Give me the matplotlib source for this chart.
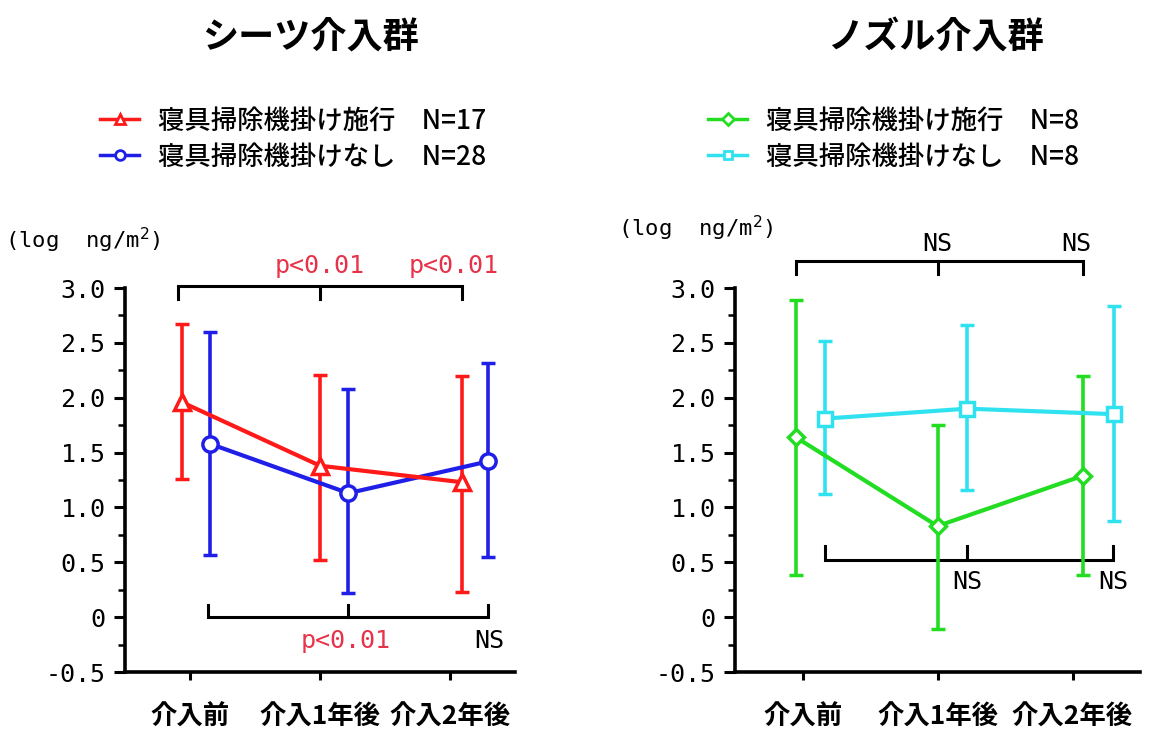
import matplotlib
matplotlib.use("Agg")
import matplotlib.pyplot as plt
from matplotlib.ticker import FixedLocator, FixedFormatter, MultipleLocator
from matplotlib.lines import Line2D

plt.rcParams['font.family'] = ['Noto Sans CJK JP', 'DejaVu Sans']

# ---- data ----
periods = ["介入前", "介入1年後", "介入2年後"]
yticks = [-0.5, 0.0, 0.5, 1.0, 1.5, 2.0, 2.5, 3.0]
ytick_labels = ["-0.5", "0", "0.5", "1.0", "1.5", "2.0", "2.5", "3.0"]

# sheets group
sheet_on_mean = [1.96, 1.38, 1.23]
sheet_on_hi = [2.67, 2.21, 2.20]
sheet_on_lo = [1.26, 0.52, 0.23]
sheet_off_mean = [1.58, 1.13, 1.42]
sheet_off_hi = [2.60, 2.08, 2.32]
sheet_off_lo = [0.57, 0.22, 0.55]

# nozzle group
nozzle_on_mean = [1.64, 0.83, 1.29]
nozzle_on_hi = [2.89, 1.75, 2.20]
nozzle_on_lo = [0.38, -0.11, 0.38]
nozzle_off_mean = [1.81, 1.90, 1.85]
nozzle_off_hi = [2.52, 2.66, 2.84]
nozzle_off_lo = [1.12, 1.16, 0.88]

label_on = "寝具掃除機掛け施行"
label_off = "寝具掃除機掛けなし"

RED = "#ff1a1a"
BLUE = "#1f1fe8"
GREEN = "#22dd22"
CYAN = "#30e2f0"
PINK = "#e8324a"
NUMFONT = ['DejaVu Sans Mono']


def series(ax, offs, mean, lo, hi, color, marker, ms):
    xs = [i + o for i, o in enumerate(offs)]
    yerr = [[m - l for m, l in zip(mean, lo)], [h - m for m, h in zip(mean, hi)]]
    ax.errorbar(xs, mean, yerr=yerr, color=color, lw=3, elinewidth=2.6,
                capsize=5, capthick=2.6, marker=marker, ms=ms, mfc="white",
                mec=color, mew=2.5, zorder=3, clip_on=False)


def style_axes(ax):
    ax.set_xlim(-0.5, 2.5)
    ax.set_ylim(-0.5, 3.0)
    for s in ["top", "right"]:
        ax.spines[s].set_visible(False)
    for s in ["left", "bottom"]:
        ax.spines[s].set_linewidth(2.6)
    ax.yaxis.set_major_locator(FixedLocator(yticks))
    ax.yaxis.set_major_formatter(FixedFormatter(ytick_labels))
    ax.yaxis.set_minor_locator(MultipleLocator(0.25))
    ax.set_xticks(range(3))
    ax.set_xticklabels(periods, fontsize=19, fontweight="bold")
    ax.tick_params(axis="y", which="major", length=8, width=2.2, pad=6,
                   labelsize=18)
    ax.tick_params(axis="y", which="minor", length=5, width=1.8)
    ax.tick_params(axis="x", length=6, width=2.2, pad=17)
    for t in ax.get_yticklabels():
        t.set_family(NUMFONT)


def bracket(ax, x0, xm, x1, y, h):
    ax.plot([x0, x0, x1, x1], [y - h, y, y, y - h], color="black", lw=2.2,
            clip_on=False, solid_joinstyle="miter")
    ax.plot([xm, xm], [y, y - h], color="black", lw=2.2, clip_on=False)


def note(ax, x, y, s, color="black"):
    ax.text(x, y, s, color=color, fontsize=18, ha="center", va="center",
            family=NUMFONT)


fig = plt.figure(figsize=(11.58, 7.33), dpi=100)
axL = fig.add_axes([125 / 1158, 61 / 733, 390 / 1158, 384 / 733])
axR = fig.add_axes([735 / 1158, 61 / 733, 405 / 1158, 384 / 733])

# left panel: sheets
series(axL, [0.154, 0.218, 0.295], sheet_off_mean, sheet_off_lo, sheet_off_hi,
       BLUE, "o", 11)
series(axL, [-0.064, 0.0, 0.09], sheet_on_mean, sheet_on_lo, sheet_on_hi,
       RED, "^", 11)
style_axes(axL)
bracket(axL, -0.09, 1.0, 2.09, 3.02, 0.12)
note(axL, 1.0, 3.2, "p<0.01", PINK)
note(axL, 2.03, 3.2, "p<0.01", PINK)
bracket(axL, 0.14, 1.218, 2.295, 0.0, -0.11)
note(axL, 1.2, -0.22, "p<0.01", PINK)
note(axL, 2.3, -0.22, "NS")

# right panel: nozzle
series(axR, [0.17, 0.22, 0.31], nozzle_off_mean, nozzle_off_lo, nozzle_off_hi,
       CYAN, "s", 10)
series(axR, [-0.05, 0.0, 0.08], nozzle_on_mean, nozzle_on_lo, nozzle_on_hi,
       GREEN, "D", 8)
style_axes(axR)
bracket(axR, -0.05, 1.0, 2.08, 3.25, 0.12)
note(axR, 1.0, 3.4, "NS")
note(axR, 2.03, 3.4, "NS")
bracket(axR, 0.17, 1.22, 2.3, 0.52, -0.13)
note(axR, 1.22, 0.32, "NS")
note(axR, 2.3, 0.32, "NS")

# y unit labels
fig.text(5 / 1158, 1 - 240 / 733, "(log  ng/m$^2$)", fontsize=16,
         family=NUMFONT, va="center")
fig.text(618 / 1158, 1 - 228 / 733, "(log  ng/m$^2$)", fontsize=16,
         family=NUMFONT, va="center")

# titles
fig.text(310 / 1158, 1 - 38 / 733, "シーツ介入群", fontsize=26,
         fontweight="bold", ha="center", va="center")
fig.text(935 / 1158, 1 - 38 / 733, "ノズル介入群", fontsize=26,
         fontweight="bold", ha="center", va="center")


def handle(color, marker, ms):
    return Line2D([], [], color=color, lw=2.5, marker=marker, ms=ms,
                  mfc="white", mec=color, mew=2)


leg_kw = dict(loc="center left", frameon=False,
              prop={"size": 19, "weight": "medium"},
              handlelength=1.5, labelspacing=0.35, handletextpad=0.7)
fig.legend([handle(RED, "^", 7), handle(BLUE, "o", 7)],
           [label_on + "　N=17", label_off + "　N=28"],
           bbox_to_anchor=(76 / 1158, 1 - 139 / 733), **leg_kw)
fig.legend([handle(GREEN, "D", 6), handle(CYAN, "s", 6)],
           [label_on + "　N=8", label_off + "　N=8"],
           bbox_to_anchor=(684 / 1158, 1 - 139 / 733), **leg_kw)

fig.savefig("out.png", dpi=100)
